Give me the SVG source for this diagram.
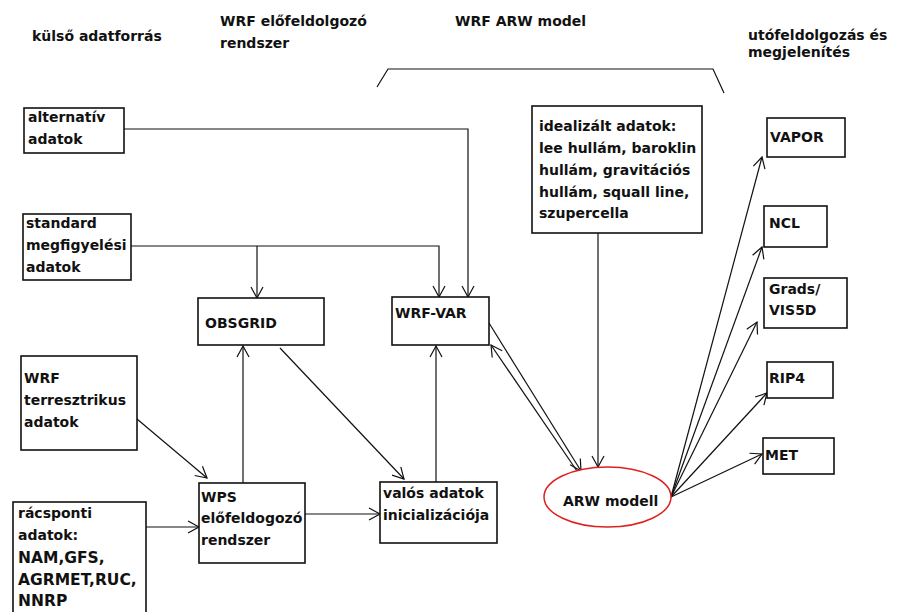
<svg xmlns="http://www.w3.org/2000/svg" width="897" height="612" viewBox="0 0 897 612">
<style>
text{font-family:"DejaVu Sans","Liberation Sans",sans-serif;font-weight:bold;font-size:14px;fill:#111}
.big{font-size:15.5px}
.box{fill:#fff;stroke:#111;stroke-width:1.6}
.c{fill:none;stroke:#111;stroke-width:1.2;marker-end:url(#a)}
.l{fill:none;stroke:#111;stroke-width:1.2}
</style>
<defs>
<marker id="a" markerUnits="userSpaceOnUse" markerWidth="14" markerHeight="14" refX="12" refY="6" orient="auto" viewBox="0 0 14 12">
<path d="M1,0 L12,6 L1,12" fill="none" stroke="#111" stroke-width="1.2"/>
</marker>
</defs>
<rect width="897" height="612" fill="#fff"/>
<g id="headers">
<text x="32" y="41">külső adatforrás</text>
<text x="220" y="26">WRF előfeldolgozó</text>
<text x="220" y="48">rendszer</text>
<text x="455" y="26">WRF ARW model</text>
<text x="748" y="40">utófeldolgozás és</text>
<text x="748" y="57">megjelenítés</text>
<path class="l" d="M377,87 L388,69 H713 L724,93"/>
</g>
<g id="connectors">
<path class="c" d="M124,129 H468 V297"/>
<path class="c" d="M131,246 H439 V297"/>
<path class="c" d="M257,246 V298"/>
<path class="c" d="M137,419 L207,478"/>
<path class="c" d="M146,527 H199"/>
<path class="c" d="M243,483 V346"/>
<path class="c" d="M280,348 L404,479"/>
<path class="c" d="M305,514 H380"/>
<path class="c" d="M436,482 V346"/>
<path class="c" d="M489,323 L581,471"/>
<path class="c" d="M577,471 L491,345"/>
<path class="c" d="M598,233 V467"/>
<path class="c" d="M671,497 L762,157"/>
<path class="c" d="M671,497 L762,247"/>
<path class="c" d="M671,497 L757,322"/>
<path class="c" d="M671,497 L767,393"/>
<path class="c" d="M671,497 L762,454"/>
</g>
<g id="alternativ">
<rect class="box" x="24" y="108" width="100" height="45"/>
<text x="28" y="122">alternatív</text>
<text x="28" y="144">adatok</text>
</g>
<g id="standard">
<rect class="box" x="23" y="214" width="108" height="66"/>
<text x="26" y="228">standard</text>
<text x="26" y="250">megfigyelési</text>
<text x="26" y="272">adatok</text>
</g>
<g id="terresztrikus">
<rect class="box" x="21" y="356" width="116" height="94"/>
<text x="24" y="383">WRF</text>
<text x="24" y="405">terresztrikus</text>
<text x="24" y="427">adatok</text>
</g>
<g id="racsponti">
<rect class="box" x="13" y="502" width="133" height="120"/>
<text x="18" y="518">rácsponti</text>
<text x="18" y="540">adatok:</text>
<text class="big" x="18" y="563">NAM,GFS,</text>
<text class="big" x="18" y="585">AGRMET,RUC,</text>
<text class="big" x="18" y="606">NNRP</text>
</g>
<g id="obsgrid">
<rect class="box" x="198" y="298" width="126" height="47"/>
<text x="205" y="328">OBSGRID</text>
</g>
<g id="wrfvar">
<rect class="box" x="392" y="297" width="97" height="48"/>
<text x="395" y="318">WRF-VAR</text>
</g>
<g id="wps">
<rect class="box" x="199" y="483" width="106" height="80"/>
<text x="201" y="502">WPS</text>
<text x="201" y="523">előfeldogozó</text>
<text x="201" y="545">rendszer</text>
</g>
<g id="valos">
<rect class="box" x="380" y="482" width="117" height="61"/>
<text x="383" y="498">valós adatok</text>
<text x="383" y="520">inicializációja</text>
</g>
<g id="idealizalt">
<rect class="box" x="532" y="106" width="170" height="127"/>
<text x="539" y="131">idealizált adatok:</text>
<text x="539" y="153">lee hullám, baroklin</text>
<text x="539" y="175">hullám, gravitációs</text>
<text x="539" y="197">hullám, squall line,</text>
<text x="539" y="218">szupercella</text>
</g>
<g id="arw">
<ellipse cx="607.5" cy="497" rx="63.5" ry="30" fill="#fff" stroke="#e02020" stroke-width="1.5"/>
<text x="563" y="506">ARW modell</text>
</g>
<g id="vapor">
<rect class="box" x="767" y="118" width="78" height="39"/>
<text x="770" y="142">VAPOR</text>
</g>
<g id="ncl">
<rect class="box" x="764" y="206" width="63" height="41"/>
<text x="769" y="228">NCL</text>
</g>
<g id="grads">
<rect class="box" x="764" y="278" width="83" height="50"/>
<text x="769" y="294">Grads/</text>
<text x="769" y="315">VIS5D</text>
</g>
<g id="rip4">
<rect class="box" x="767" y="362" width="66" height="36"/>
<text x="769" y="383">RIP4</text>
</g>
<g id="met">
<rect class="box" x="763" y="438" width="71" height="36"/>
<text x="765" y="460">MET</text>
</g>
</svg>
